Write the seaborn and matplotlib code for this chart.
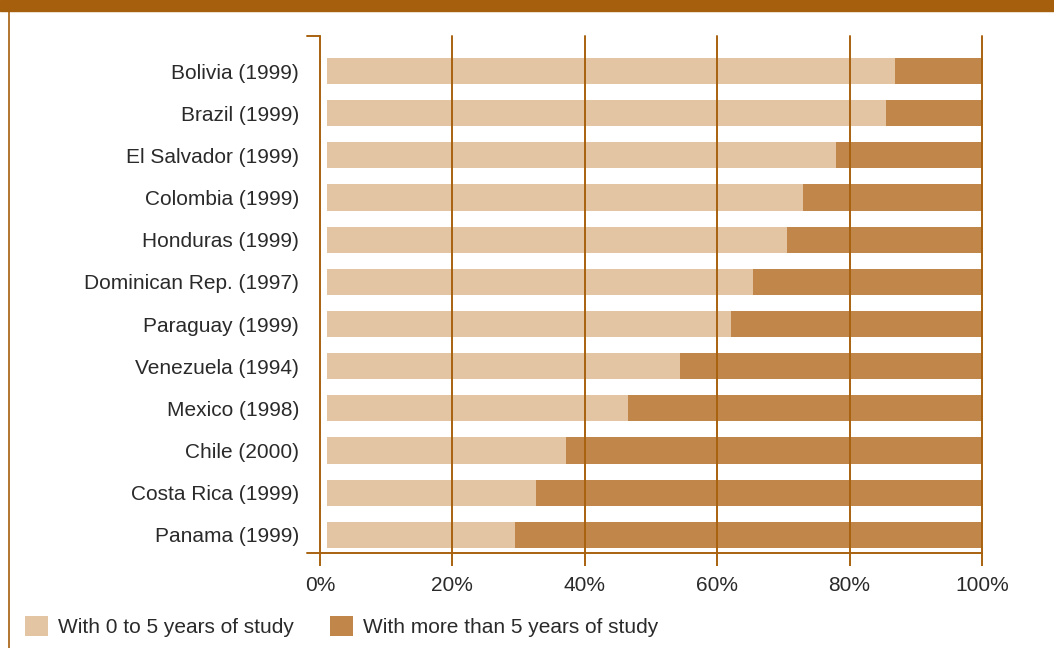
import matplotlib
matplotlib.use("Agg")
import matplotlib.pyplot as plt
import matplotlib.transforms as mtransforms
from matplotlib.patches import Rectangle, Patch
from matplotlib.lines import Line2D
import pandas as pd
import seaborn as sns

# Share of population by years of schooling, per country (survey year)
countries = [
    "Bolivia (1999)", "Brazil (1999)", "El Salvador (1999)", "Colombia (1999)",
    "Honduras (1999)", "Dominican Rep. (1997)", "Paraguay (1999)",
    "Venezuela (1994)", "Mexico (1998)", "Chile (2000)", "Costa Rica (1999)",
    "Panama (1999)",
]
low_schooling = [86.9, 85.5, 77.9, 73.0, 70.6, 65.4, 62.1, 54.4, 46.5, 37.1, 32.6, 29.4]
high_schooling = [100 - v for v in low_schooling]
series_labels = ["With 0 to 5 years of study", "With more than 5 years of study"]
x_ticks = [0, 20, 40, 60, 80, 100]
x_tick_labels = ["0%", "20%", "40%", "60%", "80%", "100%"]

LIGHT = "#E3C5A3"
DARK = "#C0864A"
RULE = "#A8620F"
TEXT = "#2a2a2a"
FONT_SIZE = 15
BAR_START = 1.0  # bars begin just right of the 0% rule

df = pd.DataFrame({
    "country": countries,
    "low": low_schooling,
    "total": [a + b for a, b in zip(low_schooling, high_schooling)],
})

sns.set_theme(style="white")
plt.rcParams["font.family"] = ["Liberation Sans", "DejaVu Sans"]
plt.rcParams["text.color"] = TEXT

fig = plt.figure(figsize=(10.54, 6.48), dpi=100)
ax = fig.add_axes([320 / 1054, 1 - 553 / 648, (982 - 320) / 1054, (553 - 36) / 648])

# full bar (dark) first, then the lower-schooling share over it
sns.barplot(data=df, x="total", y="country", color=DARK, width=0.62,
            saturation=1, ax=ax, orient="h", zorder=1)
sns.barplot(data=df, x="low", y="country", color=LIGHT, width=0.62,
            saturation=1, ax=ax, orient="h", zorder=2)
for p in ax.patches:
    p.set_edgecolor("none")
    p.set_width(p.get_x() + p.get_width() - BAR_START)
    p.set_x(BAR_START)

ax.set_xlim(0, 100)
ax.set_ylim(len(countries) - 1 + 0.43, -0.83)
ax.set_xlabel("")
ax.set_ylabel("")

for s in ax.spines.values():
    s.set_visible(False)

# vertical rules at every tick, over the bars
for t in x_ticks:
    ax.axvline(t, color=RULE, lw=1.4, zorder=5, clip_on=False)

ax.set_xticks(x_ticks)
ax.set_xticklabels(x_tick_labels, fontsize=FONT_SIZE, color=TEXT)
ax.tick_params(axis="x", length=9.4, width=1.4, color=RULE, direction="out",
               pad=7, bottom=True)
ax.tick_params(axis="y", length=0, pad=15, labelsize=FONT_SIZE, labelcolor=TEXT)

# baseline and top bracket extending slightly left of the axis
blend = mtransforms.blended_transform_factory(ax.transData, ax.transAxes)
ax.add_line(Line2D([-1.97, 100], [0, 0], transform=blend, color=RULE,
                   lw=1.4, clip_on=False, zorder=6))
ax.add_line(Line2D([-1.97, 0], [1, 1], transform=blend, color=RULE,
                   lw=1.4, clip_on=False, zorder=6))

# header band and left border
fig.patches.append(Rectangle((0, 1 - 11 / 648), 1, 11 / 648,
                             transform=fig.transFigure, color="#A65F0C", zorder=0))
fig.lines.append(Line2D([9 / 1054, 9 / 1054], [0, 1 - 11 / 648],
                        transform=fig.transFigure, color="#A65F0C", lw=1.2))

handles = [Patch(facecolor=LIGHT, edgecolor="none", label=series_labels[0]),
           Patch(facecolor=DARK, edgecolor="none", label=series_labels[1])]
fig.legend(handles=handles, loc="center left",
           bbox_to_anchor=(25 / 1054, 1 - 626.5 / 648), ncol=2, frameon=False,
           fontsize=FONT_SIZE, handlelength=1.1, handleheight=1.1,
           handletextpad=0.5, columnspacing=1.7, borderpad=0, borderaxespad=0)

fig.savefig("out.png", dpi=100, facecolor="white")
